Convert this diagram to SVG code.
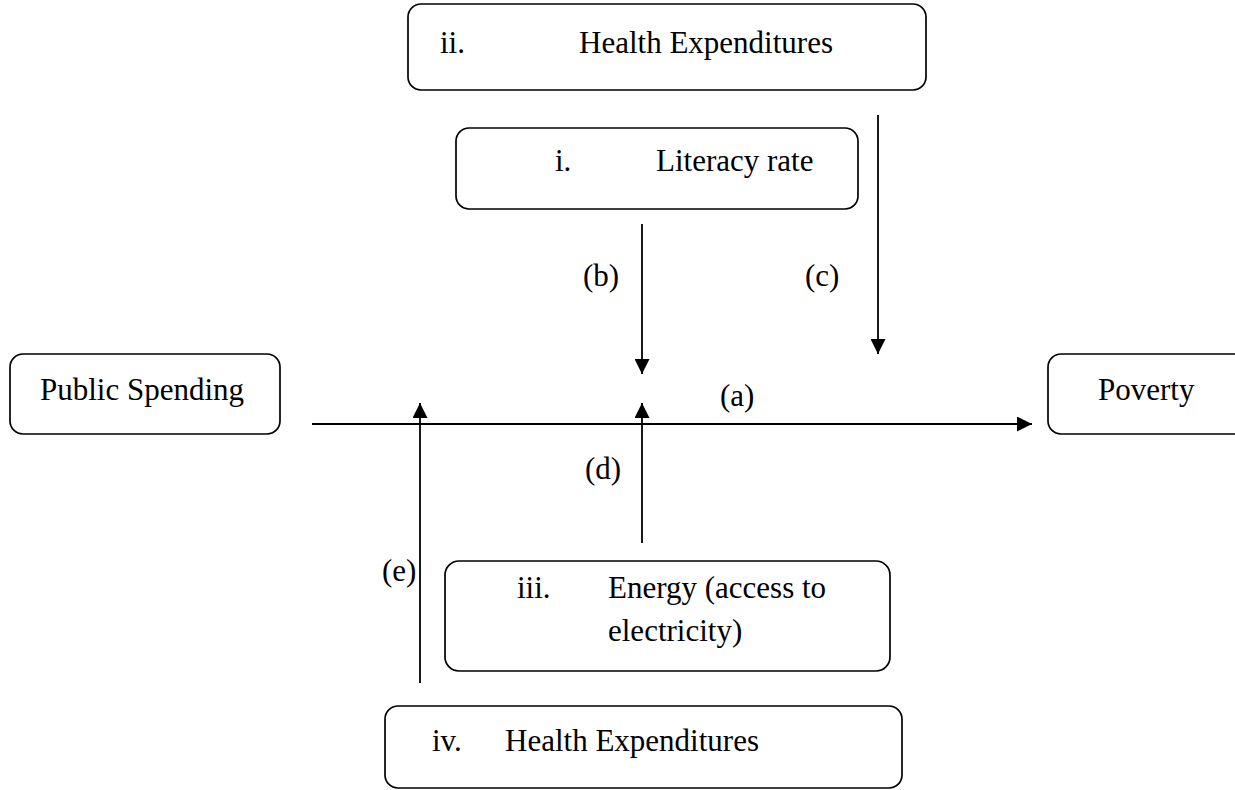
<svg xmlns="http://www.w3.org/2000/svg" width="1235" height="790" viewBox="0 0 1235 790">
<style>
.box{fill:#fff;stroke:#000;stroke-width:1.7}
.t{font-family:"Liberation Serif","Times New Roman",serif;font-size:31px;fill:#000}
.ln{stroke:#000;stroke-width:1.8;fill:none}
</style>
<defs>
<marker id="ah" viewBox="0 0 10 10" refX="10" refY="5" markerWidth="15" markerHeight="15" markerUnits="userSpaceOnUse" orient="auto">
<path d="M0,0 L10,5 L0,10 z" fill="#000"/>
</marker>
</defs>
<rect width="1235" height="790" fill="#fff"/>
<g id="node-ii">
<rect class="box" x="408" y="4" width="518" height="86" rx="13"/>
<text class="t" x="440" y="53">ii.</text>
<text class="t" x="579" y="53">Health Expenditures</text>
</g>
<g id="node-i">
<rect class="box" x="456" y="128" width="402" height="81" rx="13"/>
<text class="t" x="555" y="171">i.</text>
<text class="t" x="656" y="171">Literacy rate</text>
</g>
<g id="node-public">
<rect class="box" x="10" y="354" width="270" height="80" rx="13"/>
<text class="t" x="40" y="400">Public Spending</text>
</g>
<g id="node-poverty">
<rect class="box" x="1048" y="354" width="200" height="80" rx="13"/>
<text class="t" x="1098" y="400">Poverty</text>
</g>
<g id="node-iii">
<rect class="box" x="445" y="561" width="445" height="110" rx="14"/>
<text class="t" x="517" y="598">iii.</text>
<text class="t" x="608" y="598">Energy (access to</text>
<text class="t" x="608" y="641">electricity)</text>
</g>
<g id="node-iv">
<rect class="box" x="385" y="706" width="517" height="82" rx="13"/>
<text class="t" x="432" y="751">iv.</text>
<text class="t" x="505" y="751">Health Expenditures</text>
</g>
<g id="connectors">
<line class="ln" x1="312" y1="424" x2="1032" y2="424" marker-end="url(#ah)"/>
<text class="t" x="720" y="406">(a)</text>
<line class="ln" x1="642" y1="224" x2="642" y2="374" marker-end="url(#ah)"/>
<text class="t" x="583" y="286">(b)</text>
<line class="ln" x1="878" y1="115" x2="878" y2="354" marker-end="url(#ah)"/>
<text class="t" x="805" y="286">(c)</text>
<line class="ln" x1="642" y1="543" x2="642" y2="403" marker-end="url(#ah)"/>
<text class="t" x="585" y="479">(d)</text>
<line class="ln" x1="420" y1="683" x2="420" y2="403" marker-end="url(#ah)"/>
<text class="t" x="382" y="581">(e)</text>
</g>
</svg>
